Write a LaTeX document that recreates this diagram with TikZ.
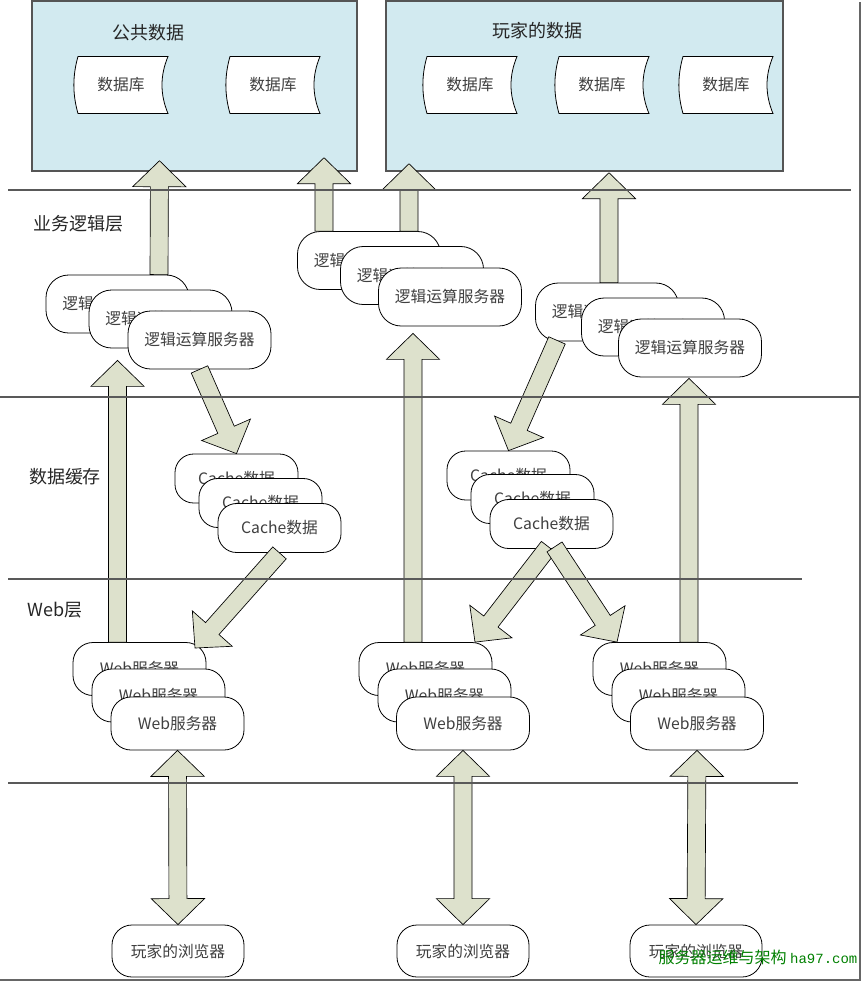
\documentclass[tikz,border=0pt]{standalone}
\usepackage{fontspec}
\setmainfont{Noto Sans CJK SC}
\setmonofont{Liberation Mono}
\usetikzlibrary{calc}

\definecolor{zonefill}{RGB}{210,234,240}
\definecolor{zoneline}{RGB}{85,85,85}
\definecolor{arrowfill}{RGB}{221,225,204}
\definecolor{markgreen}{RGB}{0,128,0}

% stored data symbol: name, centre, text
\newcommand{\dbstore}[3]{%
  \draw[db] ($(#2)+(-43,-28.5)$) -- ($(#2)+(47,-28.5)$)
    .. controls +(-8,19) and +(-8,-19) .. ($(#2)+(47,28.5)$)
    -- ($(#2)+(-43,28.5)$)
    .. controls +(-5.5,-19) and +(-5.5,19) .. ($(#2)+(-43,-28.5)$) -- cycle;
  \node[dbtext] (#1) at (#2) {#3};
}

\begin{document}
\begin{tikzpicture}[x=0.75pt, y=-0.75pt,
    zone/.style={rectangle, draw=zoneline, line width=1.1pt, fill=zonefill, inner sep=0pt},
    zonetitle/.style={font=\fontsize{13.5}{16}\selectfont, text=black!85},
    db/.style={draw=black, line width=0.6pt, fill=white},
    dbtext/.style={font=\fontsize{11.8}{14}\selectfont, text=black!75},
    server/.style={rectangle, draw=black, line width=0.6pt, fill=white, inner sep=0pt, font=\fontsize{11.8}{14}\selectfont, text=black!75},
    logic/.style={server, rounded corners=17pt, minimum width=107.25pt, minimum height=43.5pt},
    cache/.style={server, rounded corners=14pt, minimum width=92.25pt, minimum height=36.75pt},
    web/.style={server, rounded corners=15pt, minimum width=99.75pt, minimum height=39.75pt},
    browser/.style={server, rounded corners=15pt, minimum width=99pt, minimum height=39pt},
    layername/.style={font=\fontsize{13.5}{16}\selectfont, text=black!85},
    layerline/.style={draw=black!65, line width=1pt},
    shadowline/.style={draw=black!60, line width=1.5pt},
    bigarrow/.style={draw=black, line width=0.5pt, fill=arrowfill, to path={
        ($(\tikztostart)!6.75pt!90:(\tikztotarget)$)
        -- ($(\tikztotarget)!19.5pt!(\tikztostart)!6.75pt!-90:(\tikztostart)$)
        -- ($(\tikztotarget)!19.5pt!(\tikztostart)!20pt!-90:(\tikztostart)$)
        -- (\tikztotarget)
        -- ($(\tikztotarget)!19.5pt!(\tikztostart)!20pt!90:(\tikztostart)$)
        -- ($(\tikztotarget)!19.5pt!(\tikztostart)!6.75pt!90:(\tikztostart)$)
        -- ($(\tikztostart)!6.75pt!-90:(\tikztotarget)$) -- cycle}},
    dblarrow/.style={draw=black, line width=0.5pt, fill=arrowfill, to path={
        (\tikztostart)
        -- ($(\tikztostart)!19.5pt!(\tikztotarget)!20pt!90:(\tikztotarget)$)
        -- ($(\tikztostart)!19.5pt!(\tikztotarget)!6.75pt!90:(\tikztotarget)$)
        -- ($(\tikztotarget)!19.5pt!(\tikztostart)!6.75pt!-90:(\tikztostart)$)
        -- ($(\tikztotarget)!19.5pt!(\tikztostart)!20pt!-90:(\tikztostart)$)
        -- (\tikztotarget)
        -- ($(\tikztotarget)!19.5pt!(\tikztostart)!20pt!90:(\tikztostart)$)
        -- ($(\tikztotarget)!19.5pt!(\tikztostart)!6.75pt!90:(\tikztostart)$)
        -- ($(\tikztostart)!19.5pt!(\tikztotarget)!6.75pt!-90:(\tikztotarget)$)
        -- ($(\tikztostart)!19.5pt!(\tikztotarget)!20pt!-90:(\tikztotarget)$) -- cycle}}
]
\useasboundingbox (0,0) rectangle (863,983);

% Data zones
\node (pubdata) [zone, minimum width=243.75pt, minimum height=127.5pt] at (194.5,86) {};
\node (playerdata) [zone, minimum width=297.75pt, minimum height=127.5pt] at (584.5,86) {};
\node (pubtitle) [zonetitle] at (148,33) {公共数据};
\node (playertitle) [zonetitle] at (537,31) {玩家的数据};

% Databases
\dbstore{pubdba}{121,85}{数据库}
\dbstore{pubdbb}{273,85}{数据库}
\dbstore{playerdba}{470,85}{数据库}
\dbstore{playerdbb}{602,85}{数据库}
\dbstore{playerdbc}{726,85}{数据库}

% Layer names
\node (logiclayer) [layername] at (78,224) {业务逻辑层};
\node (cachelayer) [layername] at (65,477) {数据缓存};
\node (weblayer) [layername] at (55,610) {Web层};

% Logic servers
\node (logica1) [logic] at (117.5,304) {逻辑运算服务器};
\node (logica2) [logic] at (160.5,319) {逻辑运算服务器};
\node (logica3) [logic] at (199.5,340) {逻辑运算服务器};
\node (logicb1) [logic] at (369,260.5) {逻辑运算服务器};
\node (logicb2) [logic] at (412,275.5) {逻辑运算服务器};
\node (logicb3) [logic] at (450,297) {逻辑运算服务器};
\node (logicc1) [logic] at (607,312) {逻辑运算服务器};
\node (logicc2) [logic] at (653,327) {逻辑运算服务器};
\node (logicc3) [logic] at (690,348) {逻辑运算服务器};

% Cache
\node (cachea1) [cache] at (236.5,478.5) {Cache数据};
\node (cachea2) [cache] at (260.5,503) {Cache数据};
\node (cachea3) [cache] at (279.5,528) {Cache数据};
\node (cacheb1) [cache] at (508.5,475.5) {Cache数据};
\node (cacheb2) [cache] at (532.5,499) {Cache数据};
\node (cacheb3) [cache] at (551.5,524) {Cache数据};

% Web servers
\node (weba1) [web] at (139.5,669) {Web服务器};
\node (weba2) [web] at (158.5,695.5) {Web服务器};
\node (weba3) [web] at (177.5,723.5) {Web服务器};
\node (webb1) [web] at (425.5,669) {Web服务器};
\node (webb2) [web] at (444.5,695.5) {Web服务器};
\node (webb3) [web] at (463,723.5) {Web服务器};
\node (webc1) [web] at (659.5,669) {Web服务器};
\node (webc2) [web] at (678.5,695.5) {Web服务器};
\node (webc3) [web] at (697,723.5) {Web服务器};

% Browsers
\node (browsera) [browser] at (178,951) {玩家的浏览器};
\node (browserb) [browser] at (463,951) {玩家的浏览器};
\node (browserc) [browser] at (696,951) {玩家的浏览器};

% Arrows
\draw[bigarrow] ($(logica1.north)+(41.5,0)$) to ($(pubdata.south)+(-35,-11)$);
\draw[bigarrow] ($(logicb1.north)+(-45,0)$) to ($(pubdata.south)+(129.5,-14)$);
\draw[bigarrow] ($(logicb1.north)+(40,0)$) to ($(playerdata.south)+(-175.5,-8)$);
\draw[bigarrow] ($(logicc1.north)+(2,0)$) to ($(playerdata.south)+(24.5,1)$);
\draw[bigarrow] ($(weba1.north)+(-22,0)$) to ($(logica2.south)+(-43,12)$);
\draw[bigarrow] ($(webb1.north)+(-12.5,0)$) to ($(logicb3.south)+(-37,7)$);
\draw[bigarrow] ($(webc1.north)+(29.5,0)$) to ($(logicc3.south)+(-1,1)$);
\draw[bigarrow] (logica3.south) to (cachea1.north);
\draw[bigarrow] ($(logicc1.south)+(-50,-1)$) to (cacheb1.north);
\draw[bigarrow] (cachea3.south) to ($(weba1.center)+(55.5,-21)$);
\draw[bigarrow] ($(cacheb3.south)+(-3,-2)$) to ($(webb1.north)+(49.5,0)$);
\draw[bigarrow] ($(cacheb3.south)+(3,-2)$) to ($(webc1.north)+(-42.5,0)$);
\draw[dblarrow] (weba3.south) to (browsera.north);
\draw[dblarrow] (webb3.south) to (browserb.north);
\draw[dblarrow] (webc3.south) to (browserc.north);

% Layer lines
\draw[layerline] (8,190) -- (851,190);
\draw[layerline] (0,397) -- (859,397);
\draw[layerline] (8,579) -- (802,579);
\draw[layerline] (8,783) -- (798,783);
\draw[shadowline] (0,979.5) -- (860,979.5) -- (860,2);

% Mark
\node (watermark) [text=markgreen, font=\fontsize{12}{14}\selectfont] at (758,957) {服务器运维与架构 {\ttfamily\fontsize{10.5}{14}\selectfont ha97.com}};

\end{tikzpicture}
\end{document}
